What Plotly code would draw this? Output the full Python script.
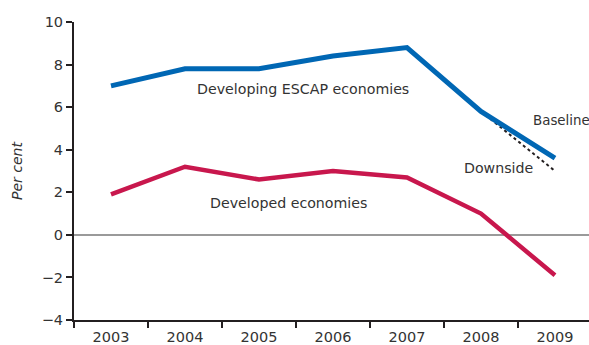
import plotly.graph_objects as go

years = [2003, 2004, 2005, 2006, 2007, 2008, 2009]
developing = [7.0, 7.8, 7.8, 8.4, 8.8, 5.8, 3.6]
developed = [1.9, 3.2, 2.6, 3.0, 2.7, 1.0, -1.9]
downside_years = [2008, 2009]
downside = [5.8, 3.0]
y_ticks = [-4, -2, 0, 2, 4, 6, 8, 10]
y_labels = ["\u22124", "\u22122", "0", "2", "4", "6", "8", "10"]

FONT = "DejaVu Sans, Verdana, sans-serif"
AXIS = "#231f20"
TEXT = "#333333"

fig = go.Figure()
fig.add_trace(go.Scatter(x=downside_years, y=downside, mode="lines",
                         line=dict(color="#231f20", width=2, dash="dot"),
                         hoverinfo="skip"))
fig.add_trace(go.Scatter(x=years, y=developing, mode="lines",
                         line=dict(color="#0067b4", width=5)))
fig.add_trace(go.Scatter(x=years, y=developed, mode="lines",
                         line=dict(color="#c8174d", width=4.5)))

# series labels placed beside the lines: (text, x, y, anchor, size)
labels = [
    ("Developing ESCAP economies", 2005.6, 6.85, "center", 14.2),
    ("Developed economies", 2005.4, 1.5, "center", 14.2),
    ("Baseline", 2008.68, 5.35, "left", 13.4),
    ("Downside", 2007.74, 3.15, "left", 14.2),
]
for text, x, y, anchor, size in labels:
    fig.add_annotation(x=x, y=y, text=text,
                       showarrow=False, xanchor=anchor, yanchor="middle",
                       font=dict(family=FONT, size=size, color=TEXT))

fig.update_layout(
    width=589, height=345,
    margin=dict(l=74, r=0, t=22, b=25),
    paper_bgcolor="white", plot_bgcolor="white",
    showlegend=False,
    font=dict(family=FONT, size=14, color=TEXT),
    xaxis=dict(
        range=[2002.5, 2009.46],
        tickvals=years, ticktext=[str(y) for y in years],
        ticks="", showgrid=False, zeroline=False,
        showline=True, linecolor=AXIS, linewidth=2,
        tickfont=dict(size=14.5),
        minor=dict(tickvals=[y - 0.5 for y in years], ticks="outside",
                   ticklen=6, tickcolor=AXIS, tickwidth=1.5),
        ticklabelstandoff=3,
    ),
    yaxis=dict(
        range=[-4, 10],
        tickvals=y_ticks, ticktext=y_labels,
        ticks="outside", ticklen=6, tickcolor=AXIS, tickwidth=1.5,
        showgrid=False, showline=True, linecolor=AXIS, linewidth=2,
        zeroline=True, zerolinecolor="#9a9a9a", zerolinewidth=1.5,
        tickfont=dict(size=14.5),
        title=dict(text="<i>Per cent</i>", font=dict(size=14), standoff=16),
    ),
)

fig.write_html("out.html")
